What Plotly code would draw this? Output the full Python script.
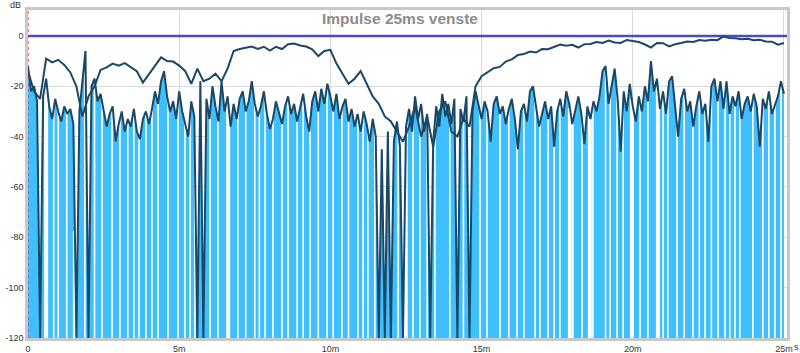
import numpy as np
import plotly.graph_objects as go

# ETC (lower dark trace), dB, sampled every 0.1 ms from 0 to 25 ms
etc_db = [
    -12, -22, -20, -26, -120, -24, -17, -28, -33, -25,
    -30, -34, -28, -31, -29, -35, -120, -30, -18, -6,
    -120, -20, -17, -26, -23, -30, -36, -31, -28, -42,
    -35, -30, -38, -33, -36, -29, -38, -41, -33, -30,
    -35, -29, -22, -27, -18, -14, -24, -30, -26, -33,
    -22, -30, -35, -40, -26, -32, -120, -18, -120, -25,
    -33, -20, -28, -34, -18, -30, -24, -36, -27, -33,
    -25, -22, -30, -26, -18, -27, -32, -28, -22, -31,
    -37, -33, -26, -30, -35, -28, -24, -31, -27, -34,
    -29, -23, -32, -38, -26, -22, -30, -21, -27, -19,
    -24, -30, -23, -33, -28, -25, -34, -29, -36, -31,
    -38, -30, -35, -42, -33, -40, -120, -45, -120, -38,
    -120, -42, -34, -44, -120, -36, -29, -38, -24, -33,
    -27, -38, -31, -120, -42, -28, -36, -23, -32, -27,
    -35, -25, -120, -29, -34, -24, -120, -30, -22, -28,
    -33, -26, -30, -42, -27, -24, -31, -28, -35, -29,
    -25, -33, -45, -30, -27, -34, -22, -20, -29, -36,
    -31, -26, -33, -28, -44, -30, -25, -32, -22, -27,
    -35, -29, -24, -31, -43, -28, -33, -26, -30, -24,
    -14, -12, -27, -20, -13, -25, -46, -22, -30, -19,
    -28, -34, -24, -30, -20, -26, -10, -22, -17, -29,
    -22, -31, -18, -16, -28, -40, -25, -21, -30, -26,
    -36, -28, -22, -31, -27, -42, -20, -17, -26, -18,
    -29, -18, -31, -24, -28, -22, -33, -27, -24, -30,
    -23, -28, -44, -25, -29, -22, -31, -27, -24, -18,
    -23,
]
etc_step_ms = 0.1

# Upper dark trace, dB, sampled every 0.2 ms from 0 to 25 ms
upper_db = [
    -14, -22, -25, -9, -10.5, -9.5, -11.5, -14.5, -20, -32,
    -24, -20, -13.5, -12.5, -11, -11.8, -10.8, -12.5, -14, -18.5,
    -15, -11.5, -8.5, -10, -10.2, -11.8, -14, -19, -13, -18,
    -17, -15, -18, -13, -6, -5.2, -4.8, -4.2, -5.2, -4.3,
    -5.8, -4.3, -5.2, -3.3, -3, -3.8, -4.2, -5.3, -8, -6,
    -5.5, -11, -15, -19, -17, -14, -19, -24, -27, -32,
    -34, -38, -42, -36, -28, -40, -32, -44, -30, -26,
    -38, -40, -33, -36, -20, -16, -14.5, -12.8, -12.3, -10.2,
    -9.3, -7.6, -7.2, -6.2, -6.6, -5.2, -5.3, -4.2, -3.4, -3.9,
    -3.5, -4.6, -3.3, -3.2, -2.4, -2.8, -1.8, -2.6, -2.8, -1.6,
    -2.1, -2.4, -3.4, -4.6, -2.8, -2.9, -4.2, -3.3, -2.8, -2.2,
    -2.4, -1.6, -1.9, -1.5, -1.7, -0.2, -0.8, -0.9, -1.3, -1.1,
    -1.7, -1.5, -2.2, -2.3, -3.5, -2.8,
]
upper_step_ms = 0.2

# Times (ms) where the impulse magnitude drops out (white gaps in the fill)
gap_narrow_ms = [
    0.85, 1.0, 1.28, 1.88, 2.2, 2.45, 2.78, 3.04, 3.3, 3.5, 3.67, 3.9, 4.1,
    4.3, 4.63, 4.96, 5.19, 5.36, 5.52, 6.02, 6.28, 6.94, 7.2, 7.5, 7.65, 7.84,
    8.1, 8.4, 8.6, 8.9, 9.1, 9.33, 9.6, 9.89, 10.09, 10.38, 10.6, 10.91,
    11.08, 11.24, 11.47, 12.24, 12.53, 12.73, 12.96, 13.2, 13.46, 13.95,
    14.4, 14.95, 15.18, 15.61, 15.9, 16.17, 16.4, 16.77, 16.93, 17.2, 17.4,
    17.59, 18.02, 18.32, 18.68, 19.1, 19.25, 19.48, 19.68, 20.24, 20.5,
    21.0, 21.16, 21.46, 21.7, 21.99, 22.2, 22.39, 22.6, 22.82, 23.05, 23.21,
    23.38, 23.54, 23.97, 24.3, 24.5, 24.7, 24.9,
]
gap_wide_ms = [0.6, 1.55, 6.62, 12.47, 17.92, 18.58, 19.97, 20.83]

x_tick_vals = [0, 5, 10, 15, 20, 25]
x_tick_text = ["0", "5m", "10m", "15m", "20m", "25m"]
y_tick_vals = [0, -20, -40, -60, -80, -100, -120]
y_tick_text = ["0", "-20", "-40", "-60", "-80", "-100", "-120"]

title_text = "Impulse 25ms venste"

BLUE = "#40BFFF"
DARK = "#1b4865"
REF = "#4b4bc6"

t_etc = np.arange(len(etc_db)) * etc_step_ms
t_up = np.arange(len(upper_db)) * upper_step_ms
etc_arr = np.array(etc_db, dtype=float)


def gap_segments(times):
    xs, ys = [], []
    for t in times:
        top = float(np.interp(t, t_etc, etc_arr))
        xs += [t, t, None]
        ys += [-120, top, None]
    return xs, ys


fig = go.Figure()
fig.add_trace(go.Scatter(x=[0, 25], y=[-120, -120], mode="lines",
                         line=dict(width=0, color=BLUE), hoverinfo="skip"))
fig.add_trace(go.Scatter(x=t_etc, y=etc_db, mode="lines", fill="tonexty",
                         fillcolor=BLUE, line=dict(width=0.5, color=BLUE),
                         hoverinfo="skip"))
gx, gy = gap_segments(gap_narrow_ms)
fig.add_trace(go.Scatter(x=gx, y=gy, mode="lines",
                         line=dict(width=1.6, color="white"), hoverinfo="skip"))
gx, gy = gap_segments(gap_wide_ms)
fig.add_trace(go.Scatter(x=gx, y=gy, mode="lines",
                         line=dict(width=4, color="white"), hoverinfo="skip"))
fig.add_trace(go.Scatter(x=[0, 25.1], y=[0, 0], mode="lines",
                         line=dict(width=2.5, color=REF), hoverinfo="skip"))
fig.add_trace(go.Scatter(x=t_up, y=upper_db, mode="lines",
                         line=dict(width=2, color=DARK), hoverinfo="skip"))
fig.add_trace(go.Scatter(x=t_etc, y=etc_db, mode="lines",
                         line=dict(width=2, color=DARK), hoverinfo="skip"))

fig.add_shape(type="line", xref="x", yref="y", x0=0, x1=0, y0=-120, y1=10.3,
              line=dict(color="#ff2020", width=1.2, dash="dot"))

tick_font = dict(family="Liberation Sans, Arial, sans-serif", size=9, color="#333333")

fig.update_layout(
    width=800, height=353,
    margin=dict(l=28, r=13, t=10, b=15, autoexpand=False),
    plot_bgcolor="white", paper_bgcolor="white",
    showlegend=False,
    xaxis=dict(range=[0, 25.1], tickvals=x_tick_vals, ticktext=x_tick_text,
               showgrid=True, gridcolor="#dadada", gridwidth=1, zeroline=False,
               showline=True, linecolor="#c8c8c8", linewidth=2.5, mirror=True,
               ticks="", tickfont=tick_font, fixedrange=True, automargin=False),
    yaxis=dict(range=[-120, 10.3], tickvals=y_tick_vals, ticktext=y_tick_text,
               showgrid=True, gridcolor="#dadada", gridwidth=1, zeroline=False,
               showline=True, linecolor="#c8c8c8", linewidth=2.5, mirror=True,
               ticks="", tickfont=tick_font, fixedrange=True, automargin=False),
    annotations=[
        dict(text=title_text, xref="paper", yref="paper", x=0.49, y=0.973,
             xanchor="center", yanchor="middle", showarrow=False,
             font=dict(family="Liberation Sans, Arial, sans-serif", size=15.5,
                       color="#8c8c8c", weight="bold")),
        dict(text="dB", xref="paper", yref="paper", x=-0.017, y=1.015,
             xanchor="center", yanchor="middle", showarrow=False, font=tick_font),
        dict(text="s", xref="paper", yref="paper", x=1.012, y=-0.026,
             xanchor="center", yanchor="middle", showarrow=False, font=tick_font),
    ],
)

fig.write_html("out.html")
